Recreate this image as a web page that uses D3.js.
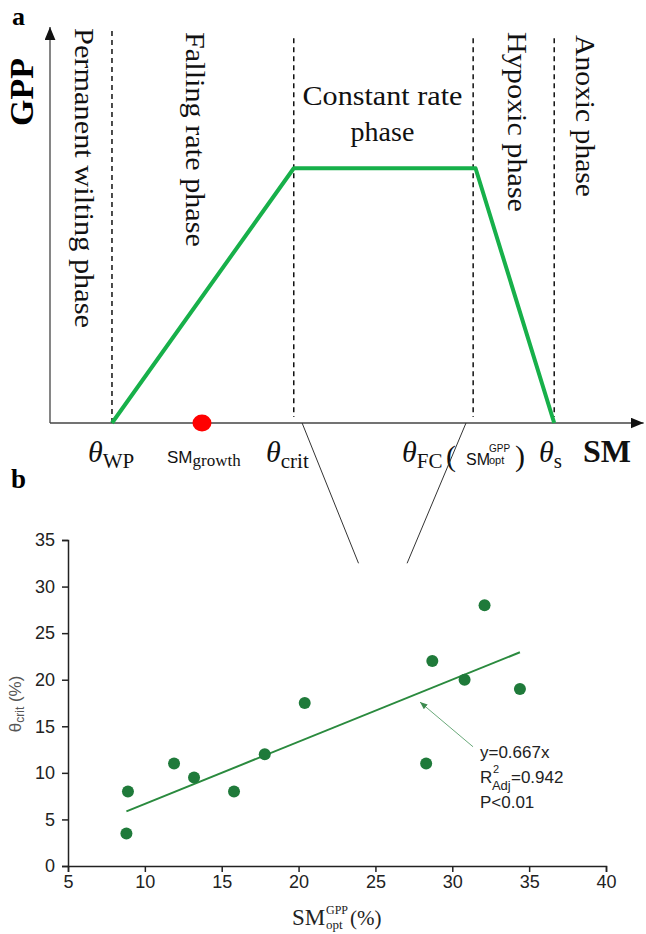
<!DOCTYPE html>
<html>
<head>
<meta charset="utf-8">
<script src="https://cdn.jsdelivr.net/npm/d3@7"></script>
<style>
  body { margin: 0; background: #fff; }
  svg { display: block; }
  .serif { font-family: "Liberation Serif", "Times New Roman", serif; }
  .sans { font-family: "Liberation Sans", Arial, sans-serif; }
</style>
</head>
<body>
<svg id="chart" width="646" height="934"></svg>
<script>
// ---- panel a: schematic, soil moisture in arbitrary units (0-100) ----
const phaseBounds = [10.4, 40.9, 71, 84.6]; // wp, crit, fc, s
const gppCurve = [[10.4, 0], [40.9, 64], [71.4, 64], [84.6, 0]];
const smGrowth = 25.5;
const phaseNames = ["Permanent wilting phase", "Falling rate phase", "Constant rate", "phase", "Hypoxic phase", "Anoxic phase"];

// ---- panel b: scatter ----
const smOpt = [8.9, 8.8, 11.9, 13.2, 15.8, 17.8, 20.4, 28.3, 28.7, 30.8, 32.1, 34.4];
const thetaCrit = [8, 3.5, 11, 9.5, 8, 12, 17.5, 11, 22, 20, 28, 19];
const fitSlope = 0.667;
const fitRange = [8.8, 34.4];
const xTicks = [5, 10, 15, 20, 25, 30, 35, 40];
const yTicks = [0, 5, 10, 15, 20, 25, 30, 35];
const statLines = ["y=0.667x", "=0.942", "P<0.01"];

const svg = d3.select("#chart");

const defs = svg.append("defs");
defs.append("marker")
  .attr("id", "arrowBlack")
  .attr("viewBox", "0 0 12 10")
  .attr("refX", 12).attr("refY", 5)
  .attr("markerWidth", 13).attr("markerHeight", 11)
  .attr("markerUnits", "userSpaceOnUse")
  .attr("orient", "auto")
  .append("path").attr("d", "M0,0L12,5L0,10Z").attr("fill", "#111");
defs.append("marker")
  .attr("id", "arrowGreen")
  .attr("viewBox", "0 0 10 8")
  .attr("refX", 10).attr("refY", 4)
  .attr("markerWidth", 8).attr("markerHeight", 6)
  .attr("markerUnits", "userSpaceOnUse")
  .attr("orient", "auto")
  .append("path").attr("d", "M0,0L10,4L0,8Z").attr("fill", "#3d8a4f");

const xa = d3.scaleLinear().domain([0, 100]).range([50, 646]);
const ya = d3.scaleLinear().domain([0, 100]).range([423, 25]);
const xb = d3.scaleLinear().domain([5, 40]).range([68, 606]);
const yb = d3.scaleLinear().domain([0, 35]).range([866, 540]);

// panel letters
svg.append("text").attr("class", "serif")
  .attr("x", 12).attr("y", 25)
  .attr("font-size", 26).attr("font-weight", "bold").text("a");
svg.append("text").attr("class", "serif")
  .attr("x", 11).attr("y", 488)
  .attr("font-size", 27).attr("font-weight", "bold").text("b");

// ===== panel a =====
const a = svg.append("g");

// axes with arrows
a.append("line")
  .attr("x1", xa(0)).attr("y1", ya(0))
  .attr("x2", xa(99.6)).attr("y2", ya(0))
  .attr("stroke", "#444").attr("stroke-width", 1.3)
  .attr("marker-end", "url(#arrowBlack)");
a.append("line")
  .attr("x1", xa(0)).attr("y1", ya(0))
  .attr("x2", xa(0)).attr("y2", ya(99.5))
  .attr("stroke", "#444").attr("stroke-width", 1.3)
  .attr("marker-end", "url(#arrowBlack)");

a.append("text").attr("class", "serif")
  .attr("transform", "translate(33,92) rotate(-90)")
  .attr("text-anchor", "middle")
  .attr("font-size", 34).attr("font-weight", "bold").text("GPP");

// dashed threshold lines
a.selectAll("line.bound")
  .data(phaseBounds)
  .join("line")
  .attr("class", "bound")
  .attr("x1", d => xa(d)).attr("x2", d => xa(d))
  .attr("y1", (d, i) => ya(i === 0 ? 98.5 : 96.7))
  .attr("y2", (d, i) => ya(i === 0 ? 0 : 1.5))
  .attr("stroke", "#111").attr("stroke-width", 1.5)
  .attr("stroke-dasharray", "5,4");

// GPP response
a.append("path")
  .attr("d", d3.line().x(d => xa(d[0])).y(d => ya(d[1]))(gppCurve))
  .attr("fill", "none")
  .attr("stroke", "#17b04a").attr("stroke-width", 4)
  .attr("stroke-linejoin", "round");

a.append("ellipse")
  .attr("cx", xa(smGrowth)).attr("cy", ya(0))
  .attr("rx", 9.5).attr("ry", 8.5)
  .attr("fill", "#ff0000");

// vertical phase names (top to bottom)
const vertLabels = [
  { name: phaseNames[0], x: xa(phaseBounds[0]) - 37, y: 28, len: 300 },
  { name: phaseNames[1], x: xa(phaseBounds[0]) + 74, y: 32, len: 215 },
  { name: phaseNames[4], x: xa(phaseBounds[2]) + 35, y: 32, len: 180 },
  { name: phaseNames[5], x: xa(phaseBounds[3]) + 22, y: 35, len: 162 }
];
a.selectAll("text.vphase")
  .data(vertLabels)
  .join("text")
  .attr("class", "vphase serif")
  .attr("transform", d => `translate(${d.x},${d.y}) rotate(90)`)
  .attr("font-size", 28)
  .attr("textLength", d => d.len)
  .attr("lengthAdjust", "spacingAndGlyphs")
  .attr("fill", "#111")
  .text(d => d.name);

const midConst = (xa(phaseBounds[1]) + xa(phaseBounds[2])) / 2 - 1;
a.append("text").attr("class", "serif")
  .attr("x", midConst).attr("y", 105)
  .attr("text-anchor", "middle").attr("font-size", 28)
  .attr("textLength", 160).attr("lengthAdjust", "spacingAndGlyphs")
  .attr("fill", "#111").text(phaseNames[2]);
a.append("text").attr("class", "serif")
  .attr("x", midConst).attr("y", 141)
  .attr("text-anchor", "middle").attr("font-size", 28)
  .attr("fill", "#111").text(phaseNames[3]);

// threshold symbols under the axis
function thetaLabel(x, sub) {
  const t = a.append("text").attr("class", "serif")
    .attr("x", x).attr("y", 462).attr("fill", "#111");
  t.append("tspan").attr("font-size", 30).attr("font-style", "italic").text("θ");
  t.append("tspan").attr("font-size", 21).attr("dy", 6).text(sub);
}
thetaLabel(88, "WP");
thetaLabel(266, "crit");
thetaLabel(402, "FC");
thetaLabel(539, "s");

const g1 = a.append("text").attr("x", 167).attr("y", 463).attr("fill", "#111");
g1.append("tspan").attr("class", "sans").attr("font-size", 17).text("SM");
g1.append("tspan").attr("class", "serif").attr("font-size", 17).attr("dy", 3).text("growth");

a.append("text").attr("class", "serif").attr("x", 446).attr("y", 466)
  .attr("font-size", 30).attr("fill", "#111").text("(");
a.append("text").attr("class", "sans").attr("x", 466).attr("y", 465)
  .attr("font-size", 16).attr("fill", "#111").text("SM");
a.append("text").attr("class", "sans").attr("x", 489).attr("y", 452)
  .attr("font-size", 10).attr("fill", "#111").text("GPP");
a.append("text").attr("class", "sans").attr("x", 489).attr("y", 464)
  .attr("font-size", 11).attr("fill", "#111").text("opt");
a.append("text").attr("class", "serif").attr("x", 515).attr("y", 466)
  .attr("font-size", 30).attr("fill", "#111").text(")");

a.append("text").attr("class", "serif").attr("x", 583).attr("y", 462)
  .attr("font-size", 32).attr("font-weight", "bold").attr("fill", "#111").text("SM");

// zoom lines from panel a to panel b
const zoomLinks = [[42.3, 23.9], [69.8, 27.06]];
svg.selectAll("line.zoom")
  .data(zoomLinks)
  .join("line")
  .attr("class", "zoom")
  .attr("x1", d => xa(d[0])).attr("y1", ya(0))
  .attr("x2", d => xb(d[1])).attr("y2", yb(32.5))
  .attr("stroke", "#333").attr("stroke-width", 1);

// ===== panel b =====
const b = svg.append("g");

const xAxis = b.append("g")
  .attr("transform", `translate(0,${yb(0)})`)
  .call(d3.axisBottom(xb).tickValues(xTicks).tickSize(6).tickPadding(3));
const yAxis = b.append("g")
  .attr("transform", `translate(${xb(5)},0)`)
  .call(d3.axisLeft(yb).tickValues(yTicks).tickSize(6).tickPadding(7));

[xAxis, yAxis].forEach(ax => {
  ax.attr("font-family", null).attr("font-size", null);
  ax.selectAll("path, line").attr("stroke", "#222").attr("stroke-width", 1.5);
  ax.selectAll("text")
    .attr("class", "sans")
    .attr("font-size", 18)
    .attr("fill", "#222");
});

// y label
const yl = b.append("text").attr("class", "sans")
  .attr("transform", `translate(21,${yb(17.4)}) rotate(-90)`)
  .attr("text-anchor", "middle").attr("fill", "#555");
yl.append("tspan").attr("font-size", 17).text("θ");
yl.append("tspan").attr("font-size", 12).attr("dy", 3).text("crit");
yl.append("tspan").attr("font-size", 17).attr("dy", -3).text(" (%)");

// x label
b.append("text").attr("class", "serif").attr("x", 292).attr("y", 925)
  .attr("font-size", 23).attr("fill", "#222").text("SM");
b.append("text").attr("class", "serif").attr("x", 326).attr("y", 914)
  .attr("font-size", 12).attr("fill", "#222").text("GPP");
b.append("text").attr("class", "serif").attr("x", 326).attr("y", 929)
  .attr("font-size", 13).attr("fill", "#222").text("opt");
b.append("text").attr("class", "serif").attr("x", 350).attr("y", 925)
  .attr("font-size", 21).attr("fill", "#222").text("(%)");

// fit line
b.append("line")
  .attr("x1", xb(fitRange[0])).attr("y1", yb(fitSlope * fitRange[0]))
  .attr("x2", xb(fitRange[1])).attr("y2", yb(fitSlope * fitRange[1]))
  .attr("stroke", "#2a8a3e").attr("stroke-width", 2);

// points
b.selectAll("circle")
  .data(smOpt.map((x, i) => [x, thetaCrit[i]]))
  .join("circle")
  .attr("cx", d => xb(d[0])).attr("cy", d => yb(d[1]))
  .attr("r", 6)
  .attr("fill", "#1f7a3a");

// annotation
b.append("line")
  .attr("x1", xb(31.35)).attr("y1", yb(12.8))
  .attr("x2", xb(27.9)).attr("y2", yb(17.6))
  .attr("stroke", "#6aa97a").attr("stroke-width", 1)
  .attr("marker-end", "url(#arrowGreen)");

const tx = xb(31.8);
b.append("text").attr("class", "sans").attr("x", tx).attr("y", 758)
  .attr("font-size", 17).attr("fill", "#222").text(statLines[0]);
b.append("text").attr("class", "sans").attr("x", tx).attr("y", 783)
  .attr("font-size", 17).attr("fill", "#222").text("R");
b.append("text").attr("class", "sans").attr("x", tx + 13).attr("y", 773)
  .attr("font-size", 11).attr("fill", "#222").text("2");
b.append("text").attr("class", "sans").attr("x", tx + 12).attr("y", 790)
  .attr("font-size", 13).attr("fill", "#222").text("Adj");
b.append("text").attr("class", "sans").attr("x", tx + 31).attr("y", 783)
  .attr("font-size", 17).attr("fill", "#222").text(statLines[1]);
b.append("text").attr("class", "sans").attr("x", tx).attr("y", 808)
  .attr("font-size", 17).attr("fill", "#222").text(statLines[2]);
</script>
</body>
</html>
